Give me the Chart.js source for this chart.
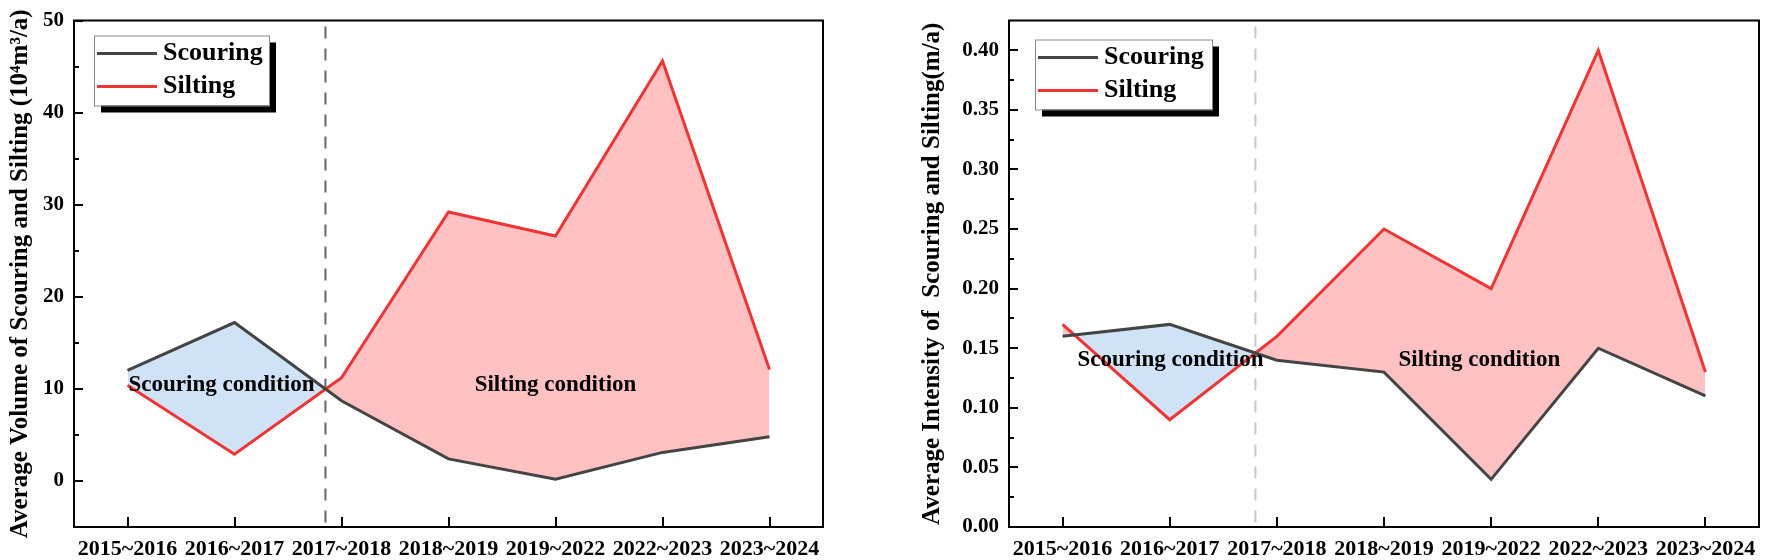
<!DOCTYPE html>
<html>
<head>
<meta charset="utf-8">
<script src="https://cdn.jsdelivr.net/npm/chart.js@4"></script>
<style>
  html, body { margin: 0; padding: 0; background: #fff; }
  body { width: 1765px; height: 560px; position: relative; overflow: hidden; }
  canvas { position: absolute; top: 0; }
  #volume-chart { left: 0; }
  #intensity-chart { left: 880px; }
</style>
</head>
<body>
<canvas id="volume-chart" width="880" height="560"></canvas>
<canvas id="intensity-chart" width="885" height="560"></canvas>
<script>
// Periods on the x axis (both panels)
const periods = ['2015~2016', '2016~2017', '2017~2018', '2018~2019', '2019~2022', '2022~2023', '2023~2024'];

// Left panel: average volume (10^4 m3/a)
const volumeScouring = [12.0, 17.2, 8.7, 2.4, 0.2, 3.1, 4.8];
const volumeSilting = [10.4, 2.9, 11.2, 29.2, 26.6, 45.6, 12.1];
const volumeTicks = [0, 10, 20, 30, 40, 50];

// Right panel: average intensity (m/a)
const intensityScouring = [0.16, 0.17, 0.14, 0.13, 0.04, 0.15, 0.11];
const intensitySilting = [0.17, 0.09, 0.16, 0.25, 0.20, 0.40, 0.13];
const intensityTicks = [0, 0.05, 0.10, 0.15, 0.20, 0.25, 0.30, 0.35, 0.40];

// Where scouring turns into silting (category index)
const volumeDivider = 1.85;
const intensityDivider = 1.8;

// Text labels inside the plots: [text, category index, value, align]
const volumeNotes = [
  ['Scouring condition', 0.01, 10.4, 'left'],
  ['Silting condition', 4.0, 10.4, 'center']
];
const intensityNotes = [
  ['Scouring condition', 0.14, 0.14, 'left'],
  ['Silting condition', 3.89, 0.14, 'center']
];

const FONT = "'Liberation Serif', 'Times New Roman', serif";
const DARK = '#444444';
const RED = '#EE3535';
const PINK = '#FFC1C1';
const BLUE = '#D0E3F6';

Chart.defaults.font.family = FONT;
Chart.defaults.font.weight = 'bold';
Chart.defaults.color = '#000';

// Box round the plot plus inward tick marks
const framePlugin = {
  id: 'frame',
  afterDraw(chart) {
    const { ctx, chartArea: a, scales: { x, y } } = chart;
    ctx.save();
    ctx.strokeStyle = '#000';
    ctx.lineWidth = 2;
    ctx.beginPath();
    x.ticks.forEach((t, i) => {
      const px = Math.round(x.getPixelForTick(i));
      ctx.moveTo(px, a.bottom);
      ctx.lineTo(px, a.bottom - 10);
    });
    const vals = y.ticks.map(t => t.value);
    vals.forEach(v => {
      const py = Math.round(y.getPixelForValue(v));
      ctx.moveTo(a.left, py);
      ctx.lineTo(a.left + 9, py);
    });
    for (let i = 0; i < vals.length - 1; i++) {
      const py = Math.round(y.getPixelForValue((vals[i] + vals[i + 1]) / 2));
      ctx.moveTo(a.left, py);
      ctx.lineTo(a.left + 5, py);
    }
    ctx.stroke();
    ctx.strokeRect(a.left, a.top, a.right - a.left, a.bottom - a.top);
    ctx.restore();
  }
};

// Dashed vertical divider
const dividerPlugin = {
  id: 'divider',
  beforeDatasetsDraw(chart, args, opts) {
    const { ctx, chartArea: a, scales: { x } } = chart;
    const px = x.getPixelForValue(opts.at);
    ctx.save();
    ctx.strokeStyle = opts.color;
    ctx.lineWidth = 2;
    ctx.setLineDash([12, 10]);
    ctx.beginPath();
    ctx.moveTo(px, a.top + 6);
    ctx.lineTo(px, a.bottom);
    ctx.stroke();
    ctx.restore();
  }
};

// Condition labels
const notesPlugin = {
  id: 'notes',
  afterDatasetsDraw(chart, args, opts) {
    const { ctx, scales: { x, y } } = chart;
    ctx.save();
    ctx.font = 'bold 23px ' + FONT;
    ctx.fillStyle = '#000';
    ctx.textBaseline = 'middle';
    opts.items.forEach(([text, idx, val, align]) => {
      ctx.textAlign = align;
      ctx.fillText(text, x.getPixelForValue(idx), y.getPixelForValue(val));
    });
    ctx.restore();
  }
};

// Legend box with a black drop shadow
const boxLegendPlugin = {
  id: 'boxLegend',
  afterDraw(chart, args, opts) {
    const { ctx, chartArea: a } = chart;
    const bx = a.left + opts.dx, by = a.top + opts.dy, bw = opts.w, bh = 70;
    ctx.save();
    ctx.fillStyle = '#000';
    ctx.fillRect(bx + 7, by + 7, bw, bh);
    ctx.fillStyle = '#fff';
    ctx.fillRect(bx, by, bw, bh);
    ctx.strokeStyle = '#888';
    ctx.lineWidth = 1;
    ctx.strokeRect(bx + 0.5, by + 0.5, bw, bh);
    ctx.font = 'bold 26px ' + FONT;
    ctx.textBaseline = 'middle';
    ctx.textAlign = 'left';
    chart.data.datasets.forEach((ds, i) => {
      const ly = by + 18 + i * 33;
      ctx.strokeStyle = ds.borderColor;
      ctx.lineWidth = 3;
      ctx.beginPath();
      ctx.moveTo(bx + 3, ly);
      ctx.lineTo(bx + 63, ly);
      ctx.stroke();
      ctx.fillStyle = '#000';
      ctx.fillText(ds.label, bx + 69, ly);
    });
    ctx.restore();
  }
};

function makeChart(id, cfg) {
  const ctx = document.getElementById(id).getContext('2d');
  return new Chart(ctx, {
    type: 'line',
    data: {
      labels: periods,
      datasets: [
        { label: 'Scouring', data: cfg.scouring, borderColor: DARK, borderWidth: 3, pointRadius: 0, fill: false },
        { label: 'Silting', data: cfg.silting, borderColor: RED, borderWidth: 3, pointRadius: 0,
          fill: { target: 0, above: PINK, below: BLUE } }
      ]
    },
    options: {
      responsive: false,
      animation: false,
      layout: { padding: { top: 12, right: cfg.padRight, left: 0, bottom: 0 } },
      plugins: {
        legend: { display: false },
        tooltip: { enabled: false },
        divider: { at: cfg.divider, color: cfg.dividerColor },
        notes: { items: cfg.notes },
        boxLegend: { dx: cfg.legendDx, dy: cfg.legendDy, w: cfg.legendW }
      },
      scales: {
        x: {
          offset: true,
          grid: { display: false, drawTicks: false },
          border: { display: false },
          ticks: { padding: 9, font: { size: 22, weight: 'bold' }, maxRotation: 0, autoSkip: false },
          afterFit: s => { s.height = 33; }
        },
        y: {
          min: cfg.min,
          max: cfg.max,
          grid: { display: false, drawTicks: false },
          border: { display: false },
          afterBuildTicks: s => { s.ticks = cfg.ticks.map(v => ({ value: v })); },
          ticks: { padding: 10, font: { size: 21, weight: 'bold', lineHeight: 1 }, callback: cfg.fmt },
          title: { display: true, text: cfg.title, font: { size: 25, weight: 'bold', lineHeight: 1.2 }, padding: { top: cfg.titlePad, bottom: 0 } },
          afterFit: s => { s.width = cfg.axisWidth; }
        }
      }
    },
    plugins: [framePlugin, dividerPlugin, notesPlugin, boxLegendPlugin]
  });
}

makeChart('volume-chart', {
  scouring: volumeScouring,
  silting: volumeSilting,
  ticks: volumeTicks,
  min: -5, max: 50,
  fmt: v => String(v),
  title: 'Average Volume of Scouring and Silting (10\u2074m\u00B3/a)',
  titlePad: 6,
  axisWidth: 74,
  padRight: 57,
  divider: volumeDivider,
  dividerColor: '#666666',
  notes: volumeNotes,
  legendDx: 20, legendDy: 15, legendW: 175
});

makeChart('intensity-chart', {
  scouring: intensityScouring,
  silting: intensitySilting,
  ticks: intensityTicks,
  min: 0, max: 0.425,
  fmt: v => v.toFixed(2),
  title: 'Average Intensity of  Scouring and Silting(m/a)',
  titlePad: 38,
  axisWidth: 129,
  padRight: 6,
  divider: intensityDivider,
  dividerColor: '#C8C8C8',
  notes: intensityNotes,
  legendDx: 26, legendDy: 19, legendW: 177
});
</script>
</body>
</html>
